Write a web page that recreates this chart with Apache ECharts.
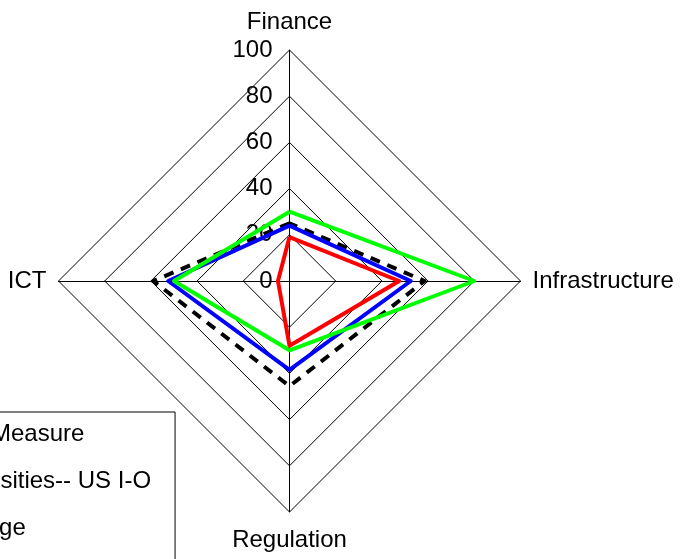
<!DOCTYPE html>
<html>
<head>
<meta charset="utf-8">
<script src="https://cdn.jsdelivr.net/npm/echarts@6/dist/echarts.min.js"></script>
<style>
  html, body { margin: 0; padding: 0; background: #fff; }
  #chart { width: 680px; height: 559px; }
</style>
</head>
<body>
<div id="chart"></div>
<script>
// indicators, counterclockwise from the top
var indicatorNames = ['Finance', 'ICT', 'Regulation', 'Infrastructure'];
var tickMax = 100;

// series values, same order as indicatorNames
var dashedValues = [25, 59, 45.5, 58.5];
var blueValues = [24, 52.5, 38.5, 52.5];
var greenValues = [30, 50, 30, 80];
var redValues = [19, 5, 28, 47.5];

var seriesNames = ['Old Measure', 'Intensities-- US I-O', 'Outage', 'Range'];

var chart = echarts.init(document.getElementById('chart'));

var font = 'Liberation Sans, Arial, sans-serif';

var option = {
  animation: false,
  legend: {
    orient: 'vertical',
    left: -108,
    top: 412,
    height: 260,
    padding: [10, 24, 10, 10],
    itemGap: 23,
    itemWidth: 40,
    itemHeight: 14,
    backgroundColor: '#fff',
    borderColor: '#000',
    borderWidth: 1,
    borderRadius: 0,
    textStyle: { fontSize: 24, color: '#000', fontFamily: font },
    data: seriesNames
  },
  radar: {
    center: [289.5, 281],
    radius: 231,
    startAngle: 90,
    shape: 'polygon',
    splitNumber: 5,
    axisName: {
      color: '#000', fontSize: 24, fontFamily: font,
      // top and bottom names sit a little further out
      formatter: function (name) {
        if (name === 'Finance') return '{top|' + name + '}';
        if (name === 'Regulation') return '{bot|' + name + '}';
        return name;
      },
      rich: {
        top: { fontSize: 24, fontFamily: font, color: '#000', padding: [0, 0, 4, 0] },
        bot: { fontSize: 24, fontFamily: font, color: '#000', padding: [4, 0, 0, 0] }
      }
    },
    nameGap: 12,
    axisLine: { lineStyle: { color: '#000', width: 1 } },
    splitLine: { lineStyle: { color: '#000', width: 1 } },
    splitArea: { show: false },
    indicator: indicatorNames.map(function (n, i) {
      var ind = { name: n, min: 0, max: tickMax };
      if (i === 0) {
        ind.axisLabel = { show: true, color: '#000', fontSize: 24, fontFamily: font, margin: 17 };
      }
      return ind;
    })
  },
  series: [{
    type: 'radar',
    symbol: 'none',
    data: [
      { name: seriesNames[0], value: dashedValues,
        lineStyle: { color: '#000', width: 4, type: [10, 8] }, itemStyle: { color: '#000' } },
      { name: seriesNames[1], value: blueValues,
        lineStyle: { color: '#0000ff', width: 4 }, itemStyle: { color: '#0000ff' } },
      { name: seriesNames[2], value: greenValues,
        lineStyle: { color: '#00ff00', width: 4 }, itemStyle: { color: '#00ff00' } },
      { name: seriesNames[3], value: redValues,
        lineStyle: { color: '#ff0000', width: 4 }, itemStyle: { color: '#ff0000' } }
    ]
  }]
};

chart.setOption(option);
</script>
</body>
</html>
